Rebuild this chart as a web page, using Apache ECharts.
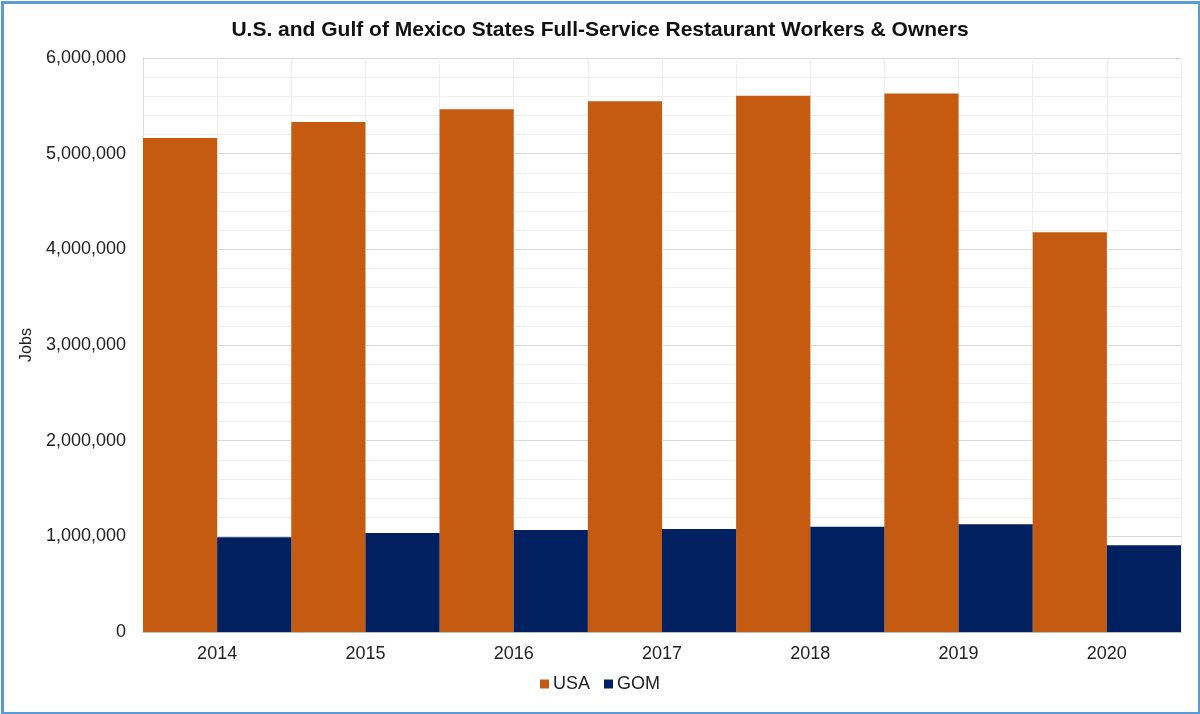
<!DOCTYPE html>
<html>
<head>
<meta charset="utf-8">
<script src="https://cdn.jsdelivr.net/npm/echarts@6/dist/echarts.min.js"></script>
<style>
html,body{margin:0;padding:0;background:#fff;}
#chart{width:1200px;height:714px;}
</style>
</head>
<body>
<div id="chart"></div>
<script>
const years = ['2014','2015','2016','2017','2018','2019','2020'];
const usaJobs = [5165000, 5330000, 5464000, 5547000, 5606000, 5630000, 4178000];
const gomJobs = [990000, 1035000, 1066000, 1077000, 1100000, 1126000, 906000];
const yTicks = [0, 1000000, 2000000, 3000000, 4000000, 5000000, 6000000];

const halfCats = years.flatMap(y => [y + 'a', y + 'b']);
const chart = echarts.init(document.getElementById('chart'));
chart.setOption({
  animation: false,
  textStyle: { fontFamily: 'Arial, Liberation Sans, sans-serif' },
  title: {
    text: 'U.S. and Gulf of Mexico States Full-Service Restaurant Workers & Owners',
    left: 'center', top: 15,
    textStyle: { fontSize: 21, fontWeight: 'bold', color: '#111', fontFamily: 'Arial, Liberation Sans, sans-serif' }
  },
  legend: {
    bottom: 16, left: 'center',
    itemWidth: 9, itemHeight: 9, itemGap: 14,
    icon: 'rect',
    textStyle: { fontSize: 18, color: '#222', padding: [0, 0, 0, -1] },
    data: ['USA', 'GOM']
  },
  grid: { left: 143, right: 19, top: 58, bottom: 82, containLabel: false },
  xAxis: [{
    type: 'category', data: years, boundaryGap: true,
    axisLine: { lineStyle: { color: '#bfbfbf', width: 1 } },
    axisTick: { show: false },
    axisLabel: { fontSize: 18, color: '#222', margin: 13 },
    splitLine: { show: true, lineStyle: { color: '#d9d9d9', width: 1 } }
  }, {
    type: 'category', data: halfCats, boundaryGap: true, position: 'bottom',
    axisLine: { show: false }, axisTick: { show: false }, axisLabel: { show: false },
    splitLine: { show: true, lineStyle: { color: '#eeeeee', width: 1 } },
    z: 0
  }],
  yAxis: {
    type: 'value', min: yTicks[0], max: yTicks[yTicks.length - 1], interval: 1000000,
    name: 'Jobs', nameLocation: 'middle', nameGap: 100, nameRotate: 90,
    nameTextStyle: { fontSize: 16, color: '#222' },
    axisLine: { show: true, lineStyle: { color: '#d9d9d9' } },
    axisTick: { show: false },
    axisLabel: { fontSize: 18, color: '#222', margin: 17,
      formatter: v => v.toLocaleString('en-US') },
    splitLine: { show: true, lineStyle: { color: '#d9d9d9', width: 1 } },
    minorTick: { show: false, splitNumber: 5 },
    minorSplitLine: { show: true, lineStyle: { color: '#efefef', width: 1 } }
  },
  series: [{
    name: 'USA', type: 'bar', data: usaJobs,
    barGap: '0%', barCategoryGap: '0%',
    itemStyle: { color: '#c55a11' }, z: 5
  }, {
    name: 'GOM', type: 'bar', data: gomJobs,
    barGap: '0%', barCategoryGap: '0%',
    itemStyle: { color: '#002060' }, z: 5
  }],
  graphic: [{
    type: 'rect', left: 0, top: 0,
    shape: { x: 1.5, y: 1.5, width: 1197, height: 711 },
    style: { fill: 'none', stroke: '#5b9bd5', lineWidth: 3 },
    silent: true
  }]
});
</script>
</body>
</html>
